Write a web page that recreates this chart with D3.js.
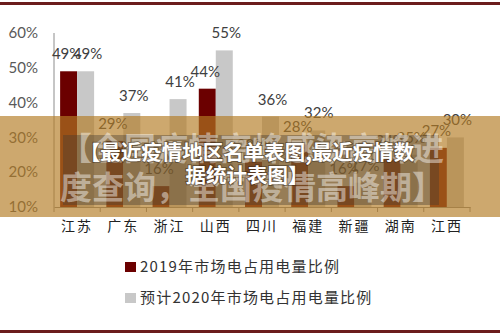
<!DOCTYPE html>
<html>
<head>
<meta charset="utf-8">
<script src="https://cdn.jsdelivr.net/npm/d3@7"></script>
<style>
  body { margin: 0; background: #fff; }
  svg { display: block; }
</style>
</head>
<body>
<div id="chart"></div>
<script>
var width = 500,
    height = 335;

// data
var provinces = ["江苏", "广东", "浙江", "山西", "四川", "福建", "新疆", "湖南", "江西"];
var share2019 = [49, 29, 16, 44, 23, 28, 16, 24, 27];
var share2020 = [49, 37, 41, 55, 36, 32, 17, 25, 30];
var seriesNames = ["2019年市场电占用电量比例", "预计2020年市场电占用电量比例"];
var seriesColors = ["#6b0000", "#c8c8c8"];
var yTicks = [10, 20, 30, 40, 50, 60];

var cjk = "'Noto Sans CJK SC', sans-serif",
    latin = "Lato, 'Noto Sans CJK SC', sans-serif";

var svg = d3.select("#chart").append("svg")
    .attr("width", width)
    .attr("height", height);

// frame lines top and bottom
svg.append("rect").attr("x", 0).attr("y", 2).attr("width", width).attr("height", 3).attr("fill", "#6b1c1c");
svg.append("rect").attr("x", 0).attr("y", 330).attr("width", width).attr("height", 3).attr("fill", "#6b1c1c");

var x0 = d3.scaleBand()
    .domain(provinces)
    .range([54, 470])
    .padding(0);

var x1 = d3.scaleBand()
    .domain([0, 1])
    .range([0, x0.bandwidth()])
    .paddingInner(0)
    .paddingOuter(0.36);

var y = d3.scaleLinear()
    .domain([10, 60])
    .range([207, 33]);

// y axis: line plus labels only
svg.append("line")
    .attr("x1", 54).attr("x2", 54)
    .attr("y1", y(60)).attr("y2", y(10))
    .attr("stroke", "#8c8c8c");

svg.append("g").selectAll("text")
  .data(yTicks)
  .enter()
  .append("text")
    .attr("x", 38)
    .attr("y", function(d) { return y(d); })
    .attr("dy", "0.35em")
    .attr("text-anchor", "end")
    .attr("font-family", latin)
    .attr("font-size", 15)
    .attr("fill", "#595959")
    .text(function(d) { return d + "%"; });

// x axis
var xAxis = svg.append("g")
    .attr("transform", "translate(0," + y(10) + ")")
    .call(d3.axisBottom(x0).tickSize(0).tickPadding(14));
xAxis.select(".domain").attr("stroke", "#8c8c8c");
xAxis.selectAll("text")
    .attr("font-family", cjk)
    .attr("font-size", 14)
    .attr("letter-spacing", 2)
    .attr("fill", "#222");

svg.append("g").selectAll("line")
  .data(d3.range(provinces.length + 1))
  .enter()
  .append("line")
    .attr("x1", function(i) { return 54 + i * x0.step(); })
    .attr("x2", function(i) { return 54 + i * x0.step(); })
    .attr("y1", y(10))
    .attr("y2", y(10) + 5)
    .attr("stroke", "#8c8c8c");

// bars
var rows = provinces.map(function(p, i) {
  return { name: p, vals: [share2019[i], share2020[i]] };
});

var groups = svg.append("g").selectAll("g")
  .data(rows)
  .enter()
  .append("g")
    .attr("transform", function(d) { return "translate(" + x0(d.name) + ",0)"; });

groups.selectAll("rect")
  .data(function(d) { return d.vals; })
  .enter()
  .append("rect")
    .attr("x", function(d, i) { return x1(i); })
    .attr("y", function(d) { return y(d); })
    .attr("width", x1.bandwidth())
    .attr("height", function(d) { return y(10) - y(d); })
    .attr("fill", function(d, i) { return seriesColors[i]; });

groups.selectAll("text")
  .data(function(d) { return d.vals; })
  .enter()
  .append("text")
    .attr("x", function(d, i) { return x1(i) + x1.bandwidth() / 2 + (i ? 2 : -2); })
    .attr("y", function(d) { return y(d) - 12; })
    .attr("text-anchor", "middle")
    .attr("font-family", latin)
    .attr("font-size", 15)
    .attr("fill", "#404040")
    .text(function(d) { return d + "%"; });

// legend
var legend = svg.append("g").selectAll("g")
  .data(seriesNames)
  .enter()
  .append("g")
    .attr("transform", function(d, i) { return "translate(125," + (262 + i * 31) + ")"; });

legend.append("rect")
    .attr("width", 11)
    .attr("height", 10)
    .attr("fill", function(d, i) { return seriesColors[i]; });

legend.append("text")
    .attr("x", 15)
    .attr("y", 5)
    .attr("dy", "0.35em")
    .attr("font-family", cjk)
    .attr("font-size", 15)
    .attr("letter-spacing", 1.2)
    .attr("fill", "#333")
    .text(function(d) { return d; });

// banner laid over the middle of the chart
var banner = svg.append("g");

banner.append("rect")
    .attr("x", 0).attr("y", 116)
    .attr("width", width).attr("height", 101)
    .attr("fill", "rgb(179,123,35)")
    .attr("fill-opacity", 0.66);

banner.append("rect")
    .attr("x", 63).attr("y", 135)
    .attr("width", 376).attr("height", 70)
    .attr("fill", "rgb(70,60,50)")
    .attr("fill-opacity", 0.4);

var bigLines = ["【全国疫情高峰感染高峰进", "度查询，全国疫情高峰期】"];
banner.selectAll("text.big")
  .data(bigLines)
  .enter()
  .append("text")
    .attr("class", "big")
    .attr("x", 60)
    .attr("y", function(d, i) { return 149 + i * 39; })
    .attr("dy", "0.35em")
    .attr("font-family", cjk)
    .attr("font-weight", 700)
    .attr("font-size", 32)
    .attr("fill", "#fff")
    .attr("fill-opacity", 0.45)
    .text(function(d) { return d; });

var titleLines = ["【最近疫情地区名单表图,最近疫情数", "据统计表图】"];
banner.selectAll("text.title")
  .data(titleLines)
  .enter()
  .append("text")
    .attr("class", "title")
    .attr("x", 247)
    .attr("y", function(d, i) { return 153 + i * 23; })
    .attr("dy", "0.35em")
    .attr("text-anchor", "middle")
    .attr("font-family", cjk)
    .attr("font-weight", 700)
    .attr("font-size", 20.5)
    .attr("fill", "#fff")
    .attr("stroke", "rgba(40,30,20,0.45)")
    .attr("stroke-width", 2)
    .attr("paint-order", "stroke")
    .text(function(d) { return d; });
</script>
</body>
</html>
